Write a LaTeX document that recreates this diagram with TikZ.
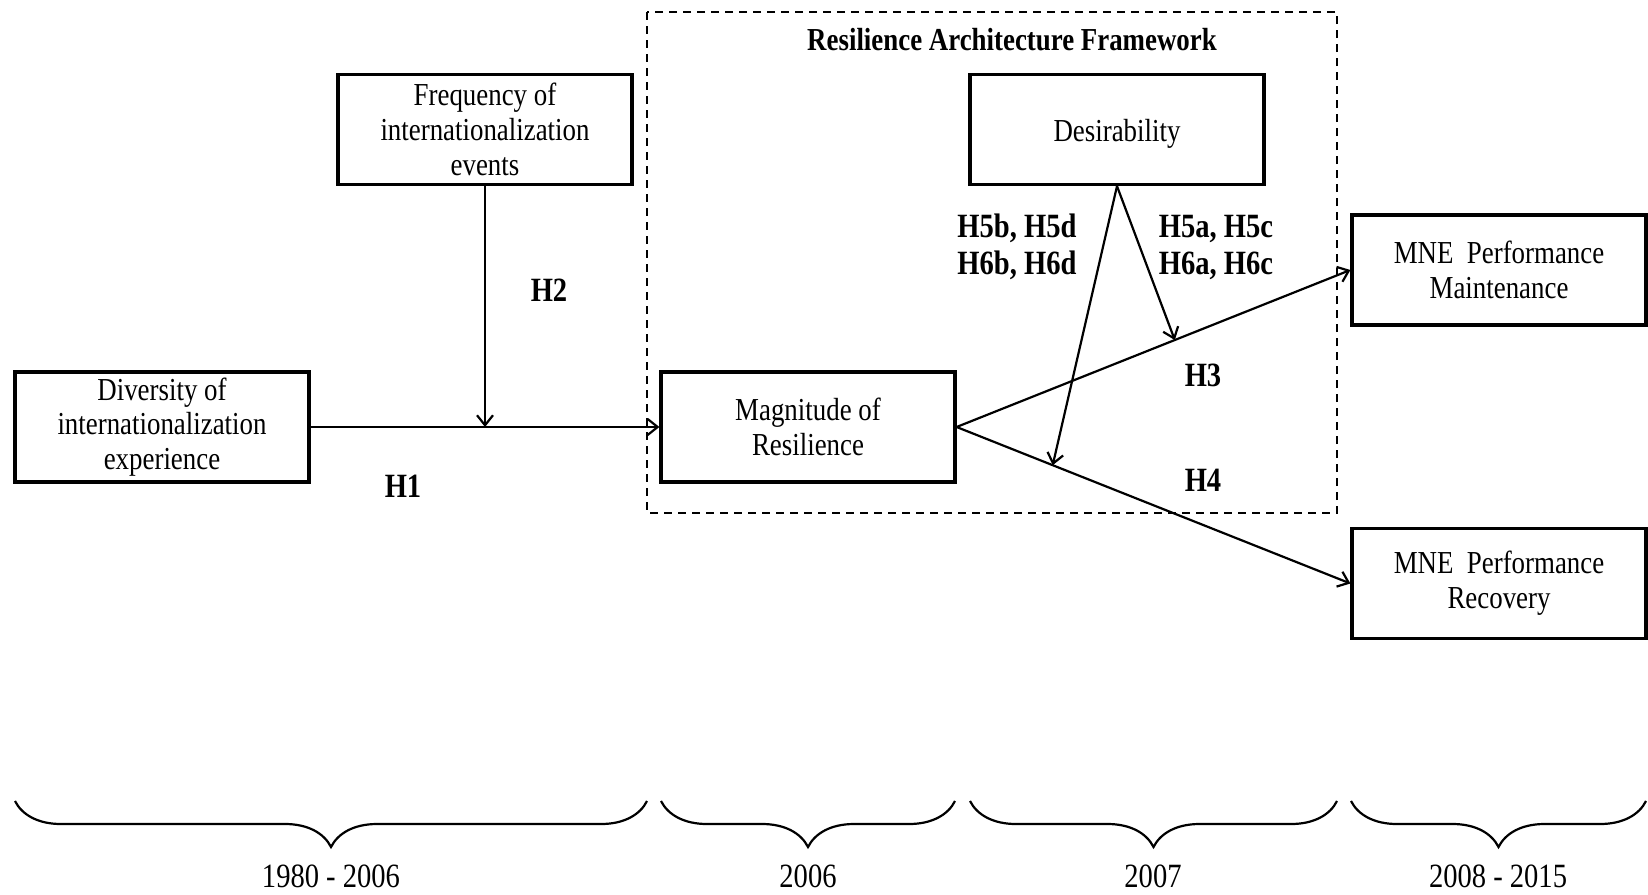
\documentclass[tikz,border=0pt]{standalone}
\usepackage{fontspec}
\setmainfont{Liberation Serif}[FakeStretch=0.84]
\usetikzlibrary{arrows.meta,calc,decorations.pathreplacing}
\begin{document}
\begin{tikzpicture}[x=1pt,y=-1pt,
  box/.style={draw, line width=3.2pt, minimum width=294pt, minimum height=110pt, align=center, inner sep=0pt, font=\fontsize{32}{34.7}\selectfont},
  arr/.style={line width=2.2pt, -{Straight Barb[length=10pt,width=16pt,line width=2.2pt]}},
  hlab/.style={font=\fontsize{34}{37}\selectfont\bfseries, align=center, inner sep=0pt},
  yr/.style={font=\fontsize{34}{40}\selectfont, inner sep=0pt},
  brc/.style={decorate, decoration={brace, mirror, amplitude=46pt}, line width=2.2pt},
  frame/.style={line width=2pt, dash pattern=on 8pt off 6pt}
]
\useasboundingbox (0,0) rectangle (1648,894);

% dashed framework
\draw[frame] (647,12) rectangle (1337,513);
\node[font=\fontsize{32}{36}\selectfont\bfseries, inner sep=0pt] (title) at (1012,40) {Resilience Architecture Framework};

% boxes
\node[box] (div) at (162,427) {Diversity of\\internationalization\\experience};
\node[box] (freq) at (485,129.5) {Frequency of\\internationalization\\events};
\node[box] (mag) at (808,427) {Magnitude of\\Resilience};
\node[box] (des) at (1117,129.5) {\raisebox{-4pt}[\height][\depth]{Desirability}};
\node[box] (mnem) at (1499,270) {MNE~ Performance\\Maintenance};
\node[box] (mner) at (1499,583.5) {MNE~ Performance\\Recovery};

% connectors
\draw[arr] (div.east) -- (mag.west);
\coordinate (meet) at (freq.south |- div.east);
\draw[arr] (freq.south) -- (meet);
\draw[arr] (mag.east) -- (mnem.west);
\draw[arr] (mag.east) -- (mner.west);
\coordinate (onH3) at ($(mag.east)!0.554!(mnem.west)$);
\coordinate (onH4) at ($(mag.east)!0.244!(mner.west)$);
\draw[arr] (des.south) -- (onH3);
\draw[arr] (des.south) -- (onH4);

% labels
\node[hlab] (h1) at (403,486) {H1};
\node[hlab] (h2) at (549,290) {H2};
\node[hlab] (h3) at (1203,375) {H3};
\node[hlab] (h4) at (1203,480) {H4};
\node[hlab] (h5b) at (1017,247) {H5b, H5d\\H6b, H6d};
\node[hlab] (h5a) at (1216,247) {H5a, H5c\\H6a, H6c};

% timeline braces
\draw[brc] (15,801) -- (647,801);
\draw[brc] (661,801) -- (955,801);
\draw[brc] (970,801) -- (1337,801);
\draw[brc] (1351,801) -- (1646,801);
\node[yr] (y1) at (331,876) {1980 - 2006};
\node[yr] (y2) at (808,876) {2006};
\node[yr] (y3) at (1153,876) {2007};
\node[yr] (y4) at (1498,876) {2008 - 2015};
\end{tikzpicture}
\end{document}
